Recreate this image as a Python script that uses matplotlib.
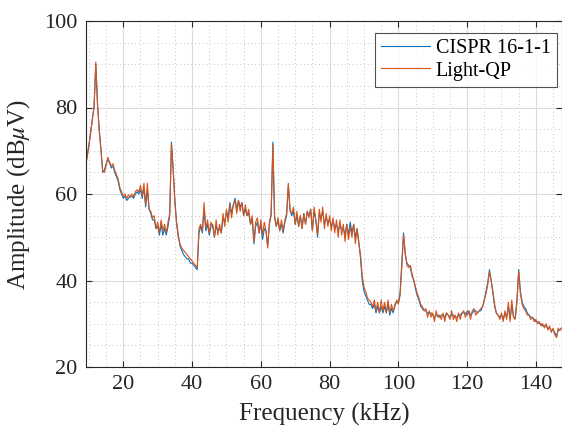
import numpy as np
import matplotlib
matplotlib.use("Agg")
import matplotlib.pyplot as plt
from matplotlib.ticker import MultipleLocator

# Frequency sweep: 9.0 .. 147.5 kHz in 0.5 kHz steps
f_start, f_step = 9.0, 0.5

light_qp = [
    66.5, 68.5, 71.0, 74.5, 77.0, 80.5, 90.5, 81.0, 74.5, 70.0,   # 9
    65.5, 65.0, 66.5, 68.5, 67.0, 66.5, 67.0, 65.5, 64.5, 63.5,   # 14
    61.5, 60.5, 59.5, 60.0, 59.0, 59.8, 59.2, 60.0, 59.4, 60.5,   # 19
    61.0, 60.5, 62.0, 59.5, 62.5, 57.5, 62.5, 56.5, 56.0, 54.5,   # 24
    55.0, 52.0, 53.5, 51.0, 54.0, 51.5, 53.0, 51.0, 53.5, 55.5,   # 29
    71.5, 66.0, 58.0, 53.0, 50.0, 48.5, 47.5, 47.0, 46.5, 46.0,   # 34
    45.5, 45.0, 44.5, 44.0, 43.5, 43.0, 52.0, 53.0, 51.5, 58.0,   # 39
    52.0, 54.0, 51.0, 53.5, 52.5, 50.0, 54.0, 50.5, 53.0, 51.0,   # 44
    55.5, 52.5, 56.5, 53.5, 57.5, 54.5, 57.5, 58.5, 55.5, 58.5,   # 49
    56.0, 58.0, 55.0, 57.5, 55.0, 56.5, 53.0, 55.0, 49.0, 53.5,   # 54
    54.5, 51.0, 54.0, 50.5, 53.5, 51.5, 47.5, 53.5, 55.5, 71.5,   # 59
    55.0, 52.5, 54.5, 51.5, 54.0, 51.5, 54.0, 55.5, 62.5, 56.0,   # 64
    55.5, 57.0, 53.0, 56.0, 52.5, 55.0, 52.0, 55.5, 53.0, 56.0,   # 69
    54.5, 56.5, 51.5, 57.0, 54.0, 50.5, 56.5, 53.5, 57.0, 52.0,   # 74
    55.5, 52.5, 55.0, 51.5, 54.5, 51.0, 54.0, 50.0, 54.0, 50.5,   # 79
    53.0, 49.0, 53.0, 49.5, 52.5, 50.0, 53.0, 48.5, 52.0, 48.5,   # 84
    46.0, 41.0, 38.5, 37.5, 36.0, 35.5, 35.0, 34.0, 35.5, 33.0,   # 89
    35.0, 32.5, 35.5, 33.0, 35.0, 32.5, 35.5, 32.5, 34.5, 33.0,   # 94
    34.0, 35.5, 34.5, 36.5, 43.0, 50.5, 46.5, 43.5, 43.0, 43.5,   # 99
    41.5, 40.0, 38.5, 37.0, 36.0, 34.5, 34.0, 33.0, 33.5, 31.5,   # 104
    33.0, 31.5, 32.5, 30.5, 33.0, 31.5, 32.0, 31.0, 32.5, 30.5,   # 109
    32.5, 32.0, 31.0, 33.0, 31.0, 32.0, 30.5, 32.5, 31.0, 32.5,   # 114
    33.0, 31.5, 33.0, 32.5, 31.0, 33.0, 33.5, 32.0, 32.5, 33.0,   # 119
    33.5, 34.0, 35.5, 37.0, 39.0, 42.0, 40.0, 37.5, 34.5, 32.5,   # 124
    32.0, 31.0, 32.5, 30.5, 33.0, 31.0, 35.0, 30.5, 35.5, 31.5,   # 129
    31.0, 35.0, 42.0, 37.0, 34.5, 33.5, 33.0, 32.0, 32.0, 31.0,   # 134
    31.5, 30.5, 31.0, 30.0, 30.5, 29.5, 30.0, 29.0, 30.0, 28.5,   # 139
    29.5, 28.0, 29.0, 27.5, 26.8, 29.0, 28.5, 29.0,               # 144
]

cispr = [
    66.0, 69.0, 71.5, 74.0, 77.5, 80.0, 90.0, 80.5, 75.0, 70.5,   # 9
    65.0, 65.5, 67.0, 68.0, 67.5, 66.0, 66.5, 65.0, 64.0, 63.0,   # 14
    61.0, 60.0, 59.0, 59.5, 58.5, 59.0, 59.5, 59.5, 59.0, 60.0,   # 19
    60.5, 60.0, 61.0, 59.0, 61.5, 57.0, 61.0, 56.5, 55.5, 54.0,   # 24
    54.0, 52.0, 52.5, 50.5, 53.0, 50.5, 52.0, 50.5, 52.5, 55.0,   # 29
    72.0, 65.5, 58.5, 53.5, 50.5, 48.0, 47.0, 46.0, 45.5, 45.0,   # 34
    45.0, 44.0, 44.0, 43.5, 43.0, 42.5, 51.0, 52.5, 51.0, 56.5,   # 39
    51.5, 53.0, 50.5, 52.5, 53.0, 50.0, 52.5, 51.5, 52.0, 51.0,   # 44
    54.5, 53.5, 56.0, 54.5, 58.0, 55.5, 57.5, 59.0, 56.5, 58.5,   # 49
    57.0, 58.0, 55.0, 56.5, 55.0, 55.5, 53.0, 54.0, 48.5, 52.5,   # 54
    53.5, 51.0, 53.0, 49.5, 52.0, 51.5, 48.0, 53.0, 55.0, 72.0,   # 59
    54.5, 52.5, 54.0, 51.5, 53.0, 51.0, 53.5, 55.0, 62.0, 56.5,   # 64
    55.0, 56.0, 53.0, 55.0, 52.5, 55.0, 52.0, 55.5, 53.0, 56.0,   # 69
    55.0, 56.5, 51.5, 56.0, 54.0, 50.0, 55.5, 54.5, 56.0, 53.0,   # 74
    54.5, 53.5, 54.0, 52.5, 54.0, 52.0, 53.0, 51.5, 53.0, 52.0,   # 79
    52.0, 50.5, 53.0, 50.5, 53.5, 51.0, 53.0, 50.0, 52.0, 49.0,   # 84
    45.0, 40.0, 37.5, 36.5, 35.5, 34.5, 34.5, 33.5, 34.5, 32.5,   # 89
    34.0, 32.5, 34.0, 32.5, 34.0, 32.5, 34.5, 32.0, 33.5, 32.5,   # 94
    34.5, 35.0, 35.0, 37.0, 44.0, 51.0, 46.0, 44.0, 43.5, 43.0,   # 99
    41.0, 40.0, 38.0, 36.5, 35.5, 34.0, 33.5, 33.0, 33.0, 32.5,   # 104
    32.5, 32.5, 32.0, 31.5, 32.0, 32.0, 31.5, 32.0, 32.0, 31.5,   # 109
    32.5, 32.0, 31.5, 32.0, 32.0, 31.5, 31.5, 32.0, 32.0, 32.5,   # 114
    32.5, 32.5, 32.0, 33.0, 32.0, 32.5, 33.0, 33.0, 32.5, 33.0,   # 119
    33.0, 34.0, 35.5, 37.5, 39.5, 42.5, 40.0, 37.0, 34.0, 32.5,   # 124
    32.0, 31.5, 32.0, 31.0, 32.5, 31.5, 34.0, 31.0, 34.5, 31.5,   # 129
    31.5, 35.5, 42.5, 37.5, 35.0, 34.0, 33.5, 32.5, 32.0, 31.5,   # 134
    31.5, 31.0, 30.5, 30.5, 30.0, 30.0, 29.5, 29.5, 29.5, 29.0,   # 139
    29.0, 28.5, 28.5, 28.0, 27.0, 28.5, 28.5, 29.0,               # 144
]

series_labels = ["CISPR 16-1-1", "Light-QP"]
x_ticks = [20, 40, 60, 80, 100, 120, 140]
y_ticks = [20, 40, 60, 80, 100]

freq = f_start + f_step * np.arange(len(light_qp))

plt.rcParams['font.family'] = ['Liberation Serif', 'DejaVu Serif']
plt.rcParams['mathtext.fontset'] = 'stix'

fig = plt.figure(figsize=(5.62, 4.29), dpi=100)
ax = fig.add_axes([86/562, 1 - 367/429, (562 - 86)/562, (367 - 21)/429])

ax.plot(freq, cispr, color='#0072BD', lw=0.8, label=series_labels[0])
ax.plot(freq, light_qp, color='#D95319', lw=0.8, label=series_labels[1])

ax.set_xlim(9.15, 147.6)
ax.set_ylim(20, 100)
ax.set_xticks(x_ticks)
ax.set_yticks(y_ticks)
ax.xaxis.set_minor_locator(MultipleLocator(5))
ax.yaxis.set_minor_locator(MultipleLocator(5))

ax.grid(which='major', color='#dcdcdc', lw=0.8, ls='-')
ax.grid(which='minor', color='#b0b0b0', lw=0.6, ls=(0, (1, 3.5)))
ax.set_axisbelow(True)

ax.tick_params(which='major', direction='in', length=4, width=0.8,
               top=True, right=True, labelsize=16, colors='#262626', pad=6)
ax.tick_params(which='minor', length=0, top=True, right=True)
for s in ax.spines.values():
    s.set_color('#262626')
    s.set_linewidth(0.8)

ax.set_xlabel('Frequency (kHz)', fontsize=18, color='#262626', labelpad=6)
ax.set_ylabel(r'Amplitude (dB$\mu$V)', fontsize=18, color='#262626', labelpad=9)

leg = ax.legend(loc='upper right', bbox_to_anchor=(0.989, 0.9645),
                fontsize=14.5, frameon=True, fancybox=False,
                borderaxespad=0.0, handlelength=2.4, handletextpad=0.3,
                borderpad=0.3, labelspacing=0.15)
leg.get_frame().set_edgecolor('#262626')
leg.get_frame().set_linewidth(0.8)

fig.savefig('out.png', dpi=100)
